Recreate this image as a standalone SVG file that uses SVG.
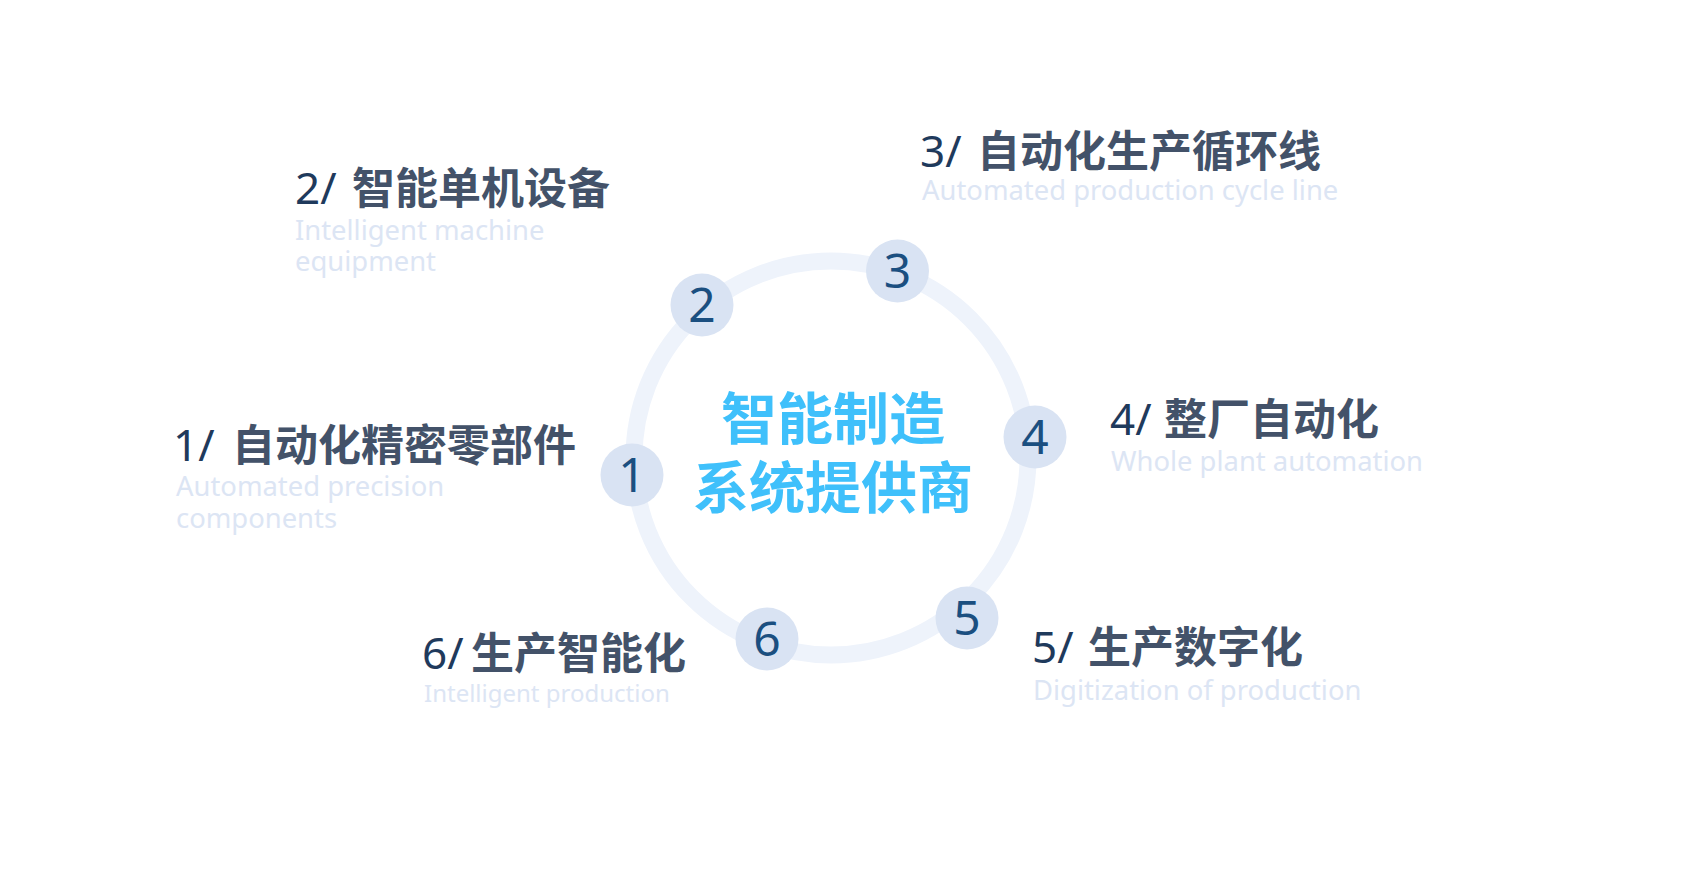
<svg xmlns="http://www.w3.org/2000/svg" width="1688" height="890" viewBox="0 0 1688 890">
<style>
.num{font-family:"Noto Sans","Open Sans",sans-serif;font-size:48px;fill:#1b4f80;text-anchor:middle}
.badge{fill:#d9e3f3}
.tnum{font-family:"Noto Sans","Open Sans",sans-serif;font-size:44px;fill:#1f3a5c}
.tcn{font-family:"Noto Sans CJK SC","Noto Sans",sans-serif;font-size:43px;font-weight:bold;fill:#435269}
.sub{font-family:"Noto Sans","Open Sans",sans-serif;font-size:27.4px;fill:#dce5f4}
.sub6{font-size:24px}
.center{font-family:"Noto Sans CJK SC","Noto Sans",sans-serif;font-size:56px;font-weight:bold;fill:#3fc0fb;text-anchor:middle}
</style>
<rect width="1688" height="890" fill="#ffffff"/>
<g id="connectors">
<circle cx="831" cy="458" r="197" fill="none" stroke="#eef3fb" stroke-width="17"/>
</g>
<g id="center">
<text class="center" x="833" y="439">智能制造</text>
<text class="center" x="833" y="508">系统提供商</text>
</g>
<g id="node1">
<circle class="badge" cx="632" cy="475" r="31.5"/>
<text class="num" x="632" y="492">1</text>
<text x="173" y="461"><tspan class="tnum">1/</tspan><tspan class="tcn" x="232">自动化精密零部件</tspan></text>
<text class="sub" x="176" y="496">Automated precision</text>
<text class="sub" x="176" y="528">components</text>
</g>
<g id="node2">
<circle class="badge" cx="702" cy="305" r="31.5"/>
<text class="num" x="702" y="322">2</text>
<text x="295" y="204"><tspan class="tnum">2/</tspan><tspan class="tcn" x="352">智能单机设备</tspan></text>
<text class="sub" x="295" y="240">Intelligent machine</text>
<text class="sub" x="295" y="271">equipment</text>
</g>
<g id="node3">
<circle class="badge" cx="897.5" cy="271" r="31.5"/>
<text class="num" x="897.5" y="288">3</text>
<text x="920" y="167"><tspan class="tnum">3/</tspan><tspan class="tcn" x="977">自动化生产循环线</tspan></text>
<text class="sub" x="922" y="200">Automated production cycle line</text>
</g>
<g id="node4">
<circle class="badge" cx="1035" cy="437" r="31.5"/>
<text class="num" x="1035" y="454">4</text>
<text x="1110" y="435"><tspan class="tnum">4/</tspan><tspan class="tcn" x="1164">整厂自动化</tspan></text>
<text class="sub" x="1111" y="471">Whole plant automation</text>
</g>
<g id="node5">
<circle class="badge" cx="967" cy="618" r="31.5"/>
<text class="num" x="967" y="635">5</text>
<text x="1032" y="663"><tspan class="tnum">5/</tspan><tspan class="tcn" x="1088">生产数字化</tspan></text>
<text class="sub" x="1033" y="700">Digitization of production</text>
</g>
<g id="node6">
<circle class="badge" cx="767" cy="639" r="31.5"/>
<text class="num" x="767" y="656">6</text>
<text x="422" y="669"><tspan class="tnum">6/</tspan><tspan class="tcn" x="471">生产智能化</tspan></text>
<text class="sub sub6" x="424" y="702">Intelligent production</text>
</g>
</svg>
